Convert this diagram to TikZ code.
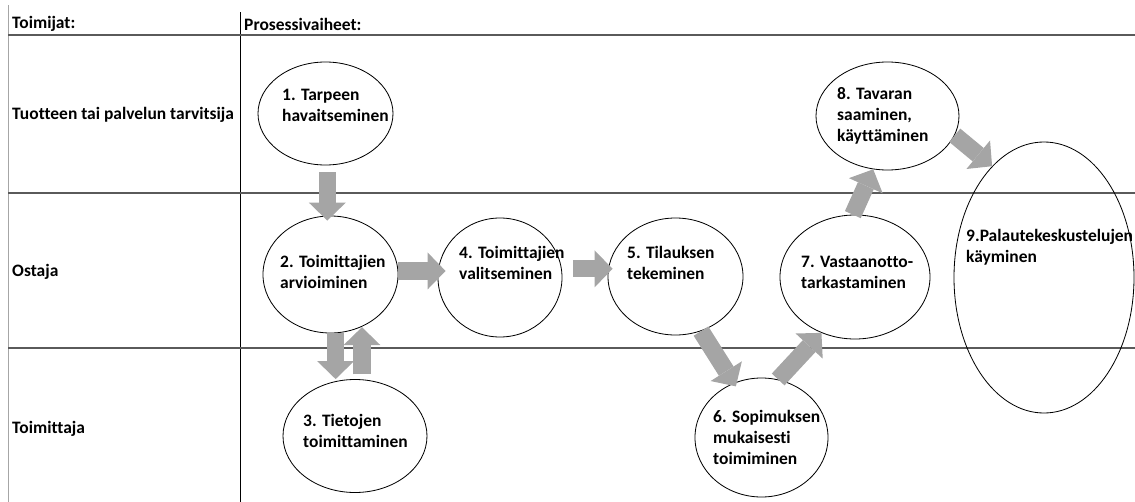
\documentclass[tikz,border=0pt]{standalone}
\usepackage{fontspec}
\setmainfont{Carlito}[Ligatures=NoCommon]
\usepackage{xcolor}
\usepackage{tikz}
\usetikzlibrary{arrows.meta,shapes.geometric}

\definecolor{lanegray}{HTML}{5A5A5A}
\definecolor{edgegray}{HTML}{A6A6A6}
\definecolor{arrowgray}{HTML}{A5A5A5}

\tikzset{
  lanetext/.style={anchor=west, inner sep=0pt, font=\bfseries\fontsize{14.9}{18}\selectfont},
  steptext/.style={anchor=west, inner sep=0pt, align=left, font=\bfseries\fontsize{14.9}{18}\selectfont},
  stepoval/.style={draw, ellipse, line width=0.7pt, inner sep=0pt},
  flowarrow/.style={line width=0.52cm, draw=arrowgray,
    -{Triangle[width=1.11cm, length=0.54cm, line width=0pt]}},
}

\begin{document}
\begin{tikzpicture}[x=0.03cm,y=-0.03cm]
    \useasboundingbox (0,0) rectangle (1135,502);

    % Lanes
    \draw[edgegray, line width=0.8pt] (8,5) -- (8,502);
    \draw[black, line width=0.8pt] (240,12) -- (240,502);
    \draw[lanegray, line width=1.4pt] (8,35) -- (1135,35);
    \draw[lanegray, line width=1.4pt] (8,193) -- (1135,193);
    \draw[lanegray, line width=1.4pt] (8,348) -- (1135,348);

    % Lane labels
    \node[lanetext] (hactors) at (12,24) {Toimijat:};
    \node[lanetext] (hsteps) at (244,24) {Prosessivaiheet:};
    \node[lanetext] (luser) at (12,115) {Tuotteen tai palvelun tarvitsija};
    \node[lanetext] (lbuyer) at (12,272) {Ostaja};
    \node[lanetext] (lsupplier) at (12,429) {Toimittaja};

    % Steps
    \node[stepoval, minimum width=4.05cm, minimum height=3.09cm] (n1) at (325.5,113.5) {};
    \node[stepoval, minimum width=4.05cm, minimum height=3.51cm] (n2) at (330.5,274.5) {};
    \node[stepoval, minimum width=4.32cm, minimum height=3.39cm] (n3) at (355,436) {};
    \node[stepoval, minimum width=3.72cm, minimum height=3.57cm] (n4) at (500,277.5) {};
    \node[stepoval, minimum width=4.05cm, minimum height=3.51cm] (n5) at (675.5,276.5) {};
    \node[stepoval, minimum width=3.99cm, minimum height=3.57cm] (n6) at (761.5,437.5) {};
    \node[stepoval, minimum width=4.5cm, minimum height=3.72cm] (n7) at (855,277) {};
    \node[stepoval, minimum width=4.29cm, minimum height=3.24cm] (n8) at (887.5,116) {};
    \node[stepoval, minimum width=5.4cm, minimum height=8.13cm] (n9) at (1044,277.5) {};

    % Step texts
    \node[steptext] (t1) at (282,105.5) {1. Tarpeen\\havaitseminen};
    \node[steptext] (t2) at (280,271.5) {2. Toimittajien\\arvioiminen};
    \node[steptext] (t3) at (303,431) {3. Tietojen\\toimittaminen};
    \node[steptext] (t4) at (459,262.5) {4. Toimittajien\\valitseminen};
    \node[steptext] (t5) at (627,262.5) {5. Tilauksen\\tekeminen};
    \node[steptext] (t6) at (713,437.5) {6. Sopimuksen\\mukaisesti\\toimiminen};
    \node[steptext] (t7) at (801,272) {7. Vastaanotto-\\tarkastaminen};
    \node[steptext] (t8) at (837,116) {8. Tavaran\\saaminen,\\käyttäminen};
    \node[steptext] (t9) at (966,247) {9.Palautekeskustelujen\\käyminen};

    % Arrows
    \draw[flowarrow, shorten <=0.2cm, shorten >=-0.15cm] (n1.-88) -- (n1.-88 |- n2.north);
    \draw[flowarrow, shorten >=-0.24cm] (n2.3) -- (n2.3 -| n4.west);
    \draw[flowarrow, shorten <=0.33cm, shorten >=-0.15cm] (n4.8) -- (n4.8 -| n5.west);
    \draw[flowarrow] (n2.-85) -- (n2.-85 |- n3.north);
    \draw[flowarrow, shorten <=0.15cm] (n3.83) -- (n3.83 |- n2.-60);
    \draw[flowarrow, shorten >=-0.12cm] (n5.-65) -- (n6.117);
    \draw[flowarrow] (n6.74) -- (n7.-121);
    \draw[flowarrow] (n7.92) -- (n8.-105);
    \draw[flowarrow] (n8.-16) -- (n9.115);
\end{tikzpicture}
\end{document}
